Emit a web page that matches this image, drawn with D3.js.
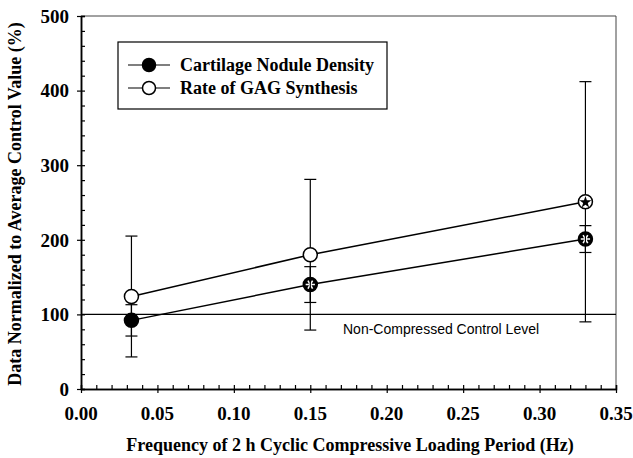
<!DOCTYPE html>
<html>
<head>
<meta charset="utf-8">
<script src="https://cdn.jsdelivr.net/npm/d3@7"></script>
<style>
  body { margin: 0; background: #fff; }
  svg { display: block; }
  .tick-label { font-family: "Liberation Serif", "Times New Roman", serif; font-weight: bold; font-size: 19px; fill: #000; }
  .axis-title { font-family: "Liberation Serif", "Times New Roman", serif; font-weight: bold; font-size: 18px; }
  .legend-text { font-family: "Liberation Serif", "Times New Roman", serif; font-weight: bold; font-size: 18px; }
  .note { font-family: "Liberation Sans", Arial, sans-serif; font-size: 14px; }
</style>
</head>
<body>
<script>
// frequencies (Hz)
var freqs = [0.033, 0.15, 0.33];

// Cartilage Nodule Density (filled)
var densityMean = [92, 140, 201];
var densityErr = [21, 24, 18];
var densityStar = [false, true, true];

// Rate of GAG Synthesis (open)
var gagMean = [124, 180, 251];
var gagErr = [81, 101, 161];
var gagStar = [false, false, true];

var xTicks = [0, 0.05, 0.1, 0.15, 0.2, 0.25, 0.3, 0.35];
var yTicks = [0, 100, 200, 300, 400, 500];
var controlLevel = 100;

var width = 633, height = 458;
var plotLeft = 81, plotRight = 616, plotTop = 16, plotBottom = 389;

var svg = d3.select("body").append("svg")
  .attr("width", width)
  .attr("height", height);

var x = d3.scaleLinear().domain([0, 0.35]).range([plotLeft, plotRight]);
var y = d3.scaleLinear().domain([0, 500]).range([plotBottom, plotTop]);

// frame top / right
svg.append("line").attr("x1", plotLeft).attr("x2", plotRight).attr("y1", plotTop).attr("y2", plotTop)
  .attr("stroke", "#444").attr("stroke-width", 1);
svg.append("line").attr("x1", plotRight).attr("x2", plotRight).attr("y1", plotTop).attr("y2", plotBottom)
  .attr("stroke", "#444").attr("stroke-width", 1);

// y axis
var yAxis = svg.append("g").attr("transform", "translate(" + plotLeft + ",0)");
yAxis.call(d3.axisLeft(y).tickValues(d3.range(0, 501, 20)).tickSize(-4).tickFormat(""));
yAxis.append("g").call(d3.axisLeft(y).tickValues(yTicks).tickSizeInner(4).tickSizeOuter(0).tickFormat(""));
yAxis.selectAll(".domain").attr("stroke", "#000").attr("stroke-width", 1.5);
yAxis.selectAll("line").attr("stroke", "#000").attr("stroke-width", 1.2);
yAxis.selectAll(".label").data(yTicks).enter().append("text")
  .attr("class", "tick-label")
  .attr("x", -12)
  .attr("y", function (d) { return y(d); })
  .attr("dy", "0.36em")
  .attr("text-anchor", "end")
  .text(function (d) { return d; });

// x axis
var xAxis = svg.append("g").attr("transform", "translate(0," + plotBottom + ")");
xAxis.call(d3.axisBottom(x).tickValues(d3.range(0, 36).map(function (i) { return i / 100; })).tickSize(-4).tickFormat(""));
xAxis.append("g").call(d3.axisBottom(x).tickValues(xTicks).tickSizeInner(4).tickSizeOuter(0).tickFormat(""));
xAxis.selectAll(".domain").attr("stroke", "#000").attr("stroke-width", 1.5);
xAxis.selectAll("line").attr("stroke", "#000").attr("stroke-width", 1.2);
xAxis.selectAll(".label").data(xTicks).enter().append("text")
  .attr("class", "tick-label")
  .attr("x", function (d) { return x(d); })
  .attr("y", 31)
  .attr("text-anchor", "middle")
  .text(function (d) { return d.toFixed(2); });

// axis titles
svg.append("text")
  .attr("class", "axis-title")
  .attr("x", 350)
  .attr("y", 451)
  .attr("text-anchor", "middle")
  .text("Frequency of 2 h Cyclic Compressive Loading Period (Hz)");

svg.append("text")
  .attr("class", "axis-title")
  .attr("transform", "translate(21," + 204 + ") rotate(-90)")
  .attr("text-anchor", "middle")
  .text("Data Normalized to Average Control Value (%)");

// control level line
svg.append("line")
  .attr("x1", plotLeft).attr("x2", plotRight)
  .attr("y1", y(controlLevel)).attr("y2", y(controlLevel))
  .attr("stroke", "#000").attr("stroke-width", 1.2);
svg.append("text")
  .attr("class", "note")
  .attr("x", 343)
  .attr("y", y(controlLevel) + 20)
  .text("Non-Compressed Control Level");

var line = d3.line()
  .x(function (d, i) { return x(freqs[i]); })
  .y(function (d) { return y(d); });

function drawSeries(means, errs) {
  var g = svg.append("g");
  // error bars
  freqs.forEach(function (f, i) {
    var cx = x(f);
    var hi = y(means[i] + errs[i]), lo = y(means[i] - errs[i]);
    g.append("line").attr("x1", cx).attr("x2", cx).attr("y1", hi).attr("y2", lo)
      .attr("stroke", "#000").attr("stroke-width", 1.2);
    [hi, lo].forEach(function (yy) {
      g.append("line").attr("x1", cx - 6).attr("x2", cx + 6).attr("y1", yy).attr("y2", yy)
        .attr("stroke", "#000").attr("stroke-width", 1.2);
    });
  });
  g.append("path")
    .datum(means)
    .attr("d", line)
    .attr("fill", "none")
    .attr("stroke", "#000")
    .attr("stroke-width", 1.5);
  return g;
}

function drawMarkers(g, means, stars, filled) {
  freqs.forEach(function (f, i) {
    var cx = x(f), cy = y(means[i]);
    g.append("circle").attr("cx", cx).attr("cy", cy).attr("r", 7)
      .attr("fill", filled ? "#000" : "#fff")
      .attr("stroke", "#000").attr("stroke-width", 1.5);
    if (stars[i]) {
      if (filled) {
        g.append("path")
          .attr("d", d3.symbol().type(d3.symbolAsterisk).size(60)())
          .attr("transform", "translate(" + cx + "," + cy + ") rotate(90)")
          .attr("stroke", "#fff").attr("stroke-width", 1.6).attr("fill", "none");
      } else {
        g.append("path")
          .attr("d", d3.symbol().type(d3.symbolStar).size(45)())
          .attr("transform", "translate(" + cx + "," + (cy + 0.5) + ")")
          .attr("fill", "#000");
      }
    }
  });
}

var gDensity = drawSeries(densityMean, densityErr);
var gGag = drawSeries(gagMean, gagErr);
drawMarkers(gDensity, densityMean, densityStar, true);
drawMarkers(gGag, gagMean, gagStar, false);

// legend
var legend = svg.append("g");
legend.append("rect")
  .attr("x", 118).attr("y", 42).attr("width", 269).attr("height", 67)
  .attr("fill", "#fff").attr("stroke", "#000").attr("stroke-width", 1.2);
var legendItems = [
  { label: "Cartilage Nodule Density", filled: true, yy: 65 },
  { label: "Rate of GAG Synthesis", filled: false, yy: 88 }
];
legendItems.forEach(function (d) {
  legend.append("line").attr("x1", 128).attr("x2", 170).attr("y1", d.yy).attr("y2", d.yy)
    .attr("stroke", "#000").attr("stroke-width", 1.2);
  legend.append("circle").attr("cx", 149).attr("cy", d.yy).attr("r", 6.5)
    .attr("fill", d.filled ? "#000" : "#fff").attr("stroke", "#000").attr("stroke-width", 1.5);
  legend.append("text").attr("class", "legend-text")
    .attr("x", 180).attr("y", d.yy).attr("dy", "0.33em")
    .text(d.label);
});
</script>
</body>
</html>
